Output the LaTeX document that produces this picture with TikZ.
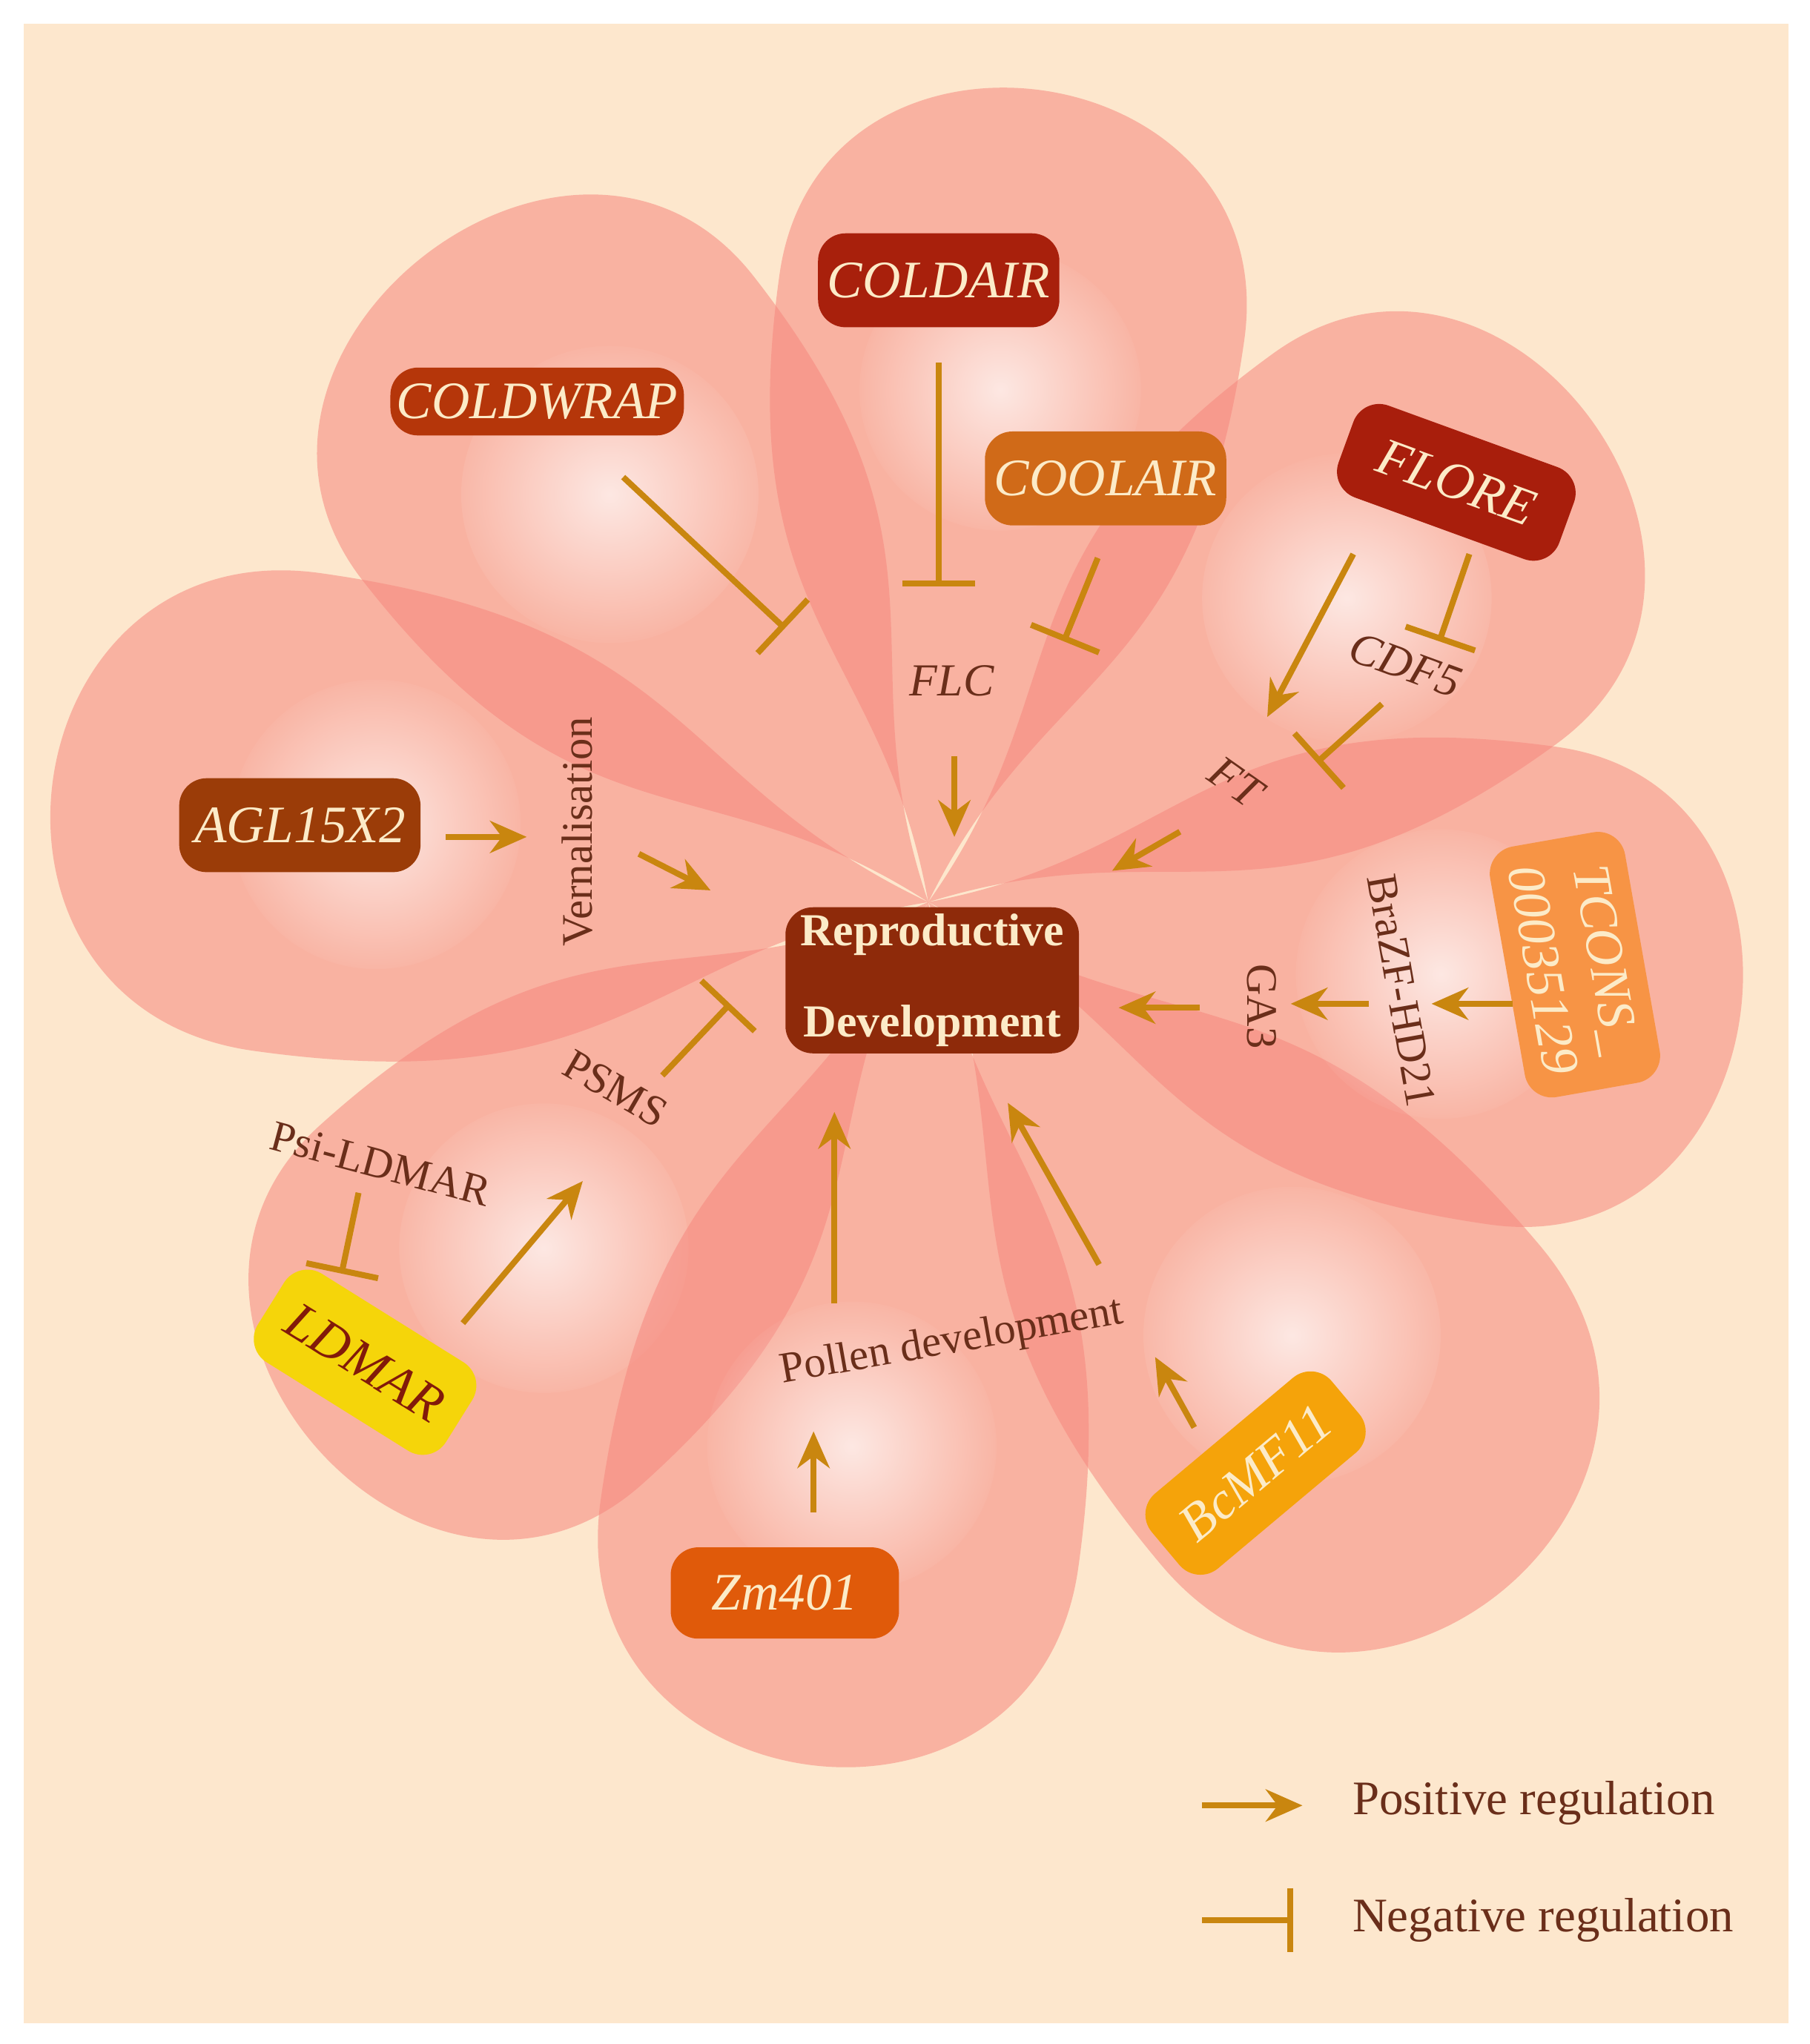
\documentclass[tikz,border=0pt]{standalone}
\usepackage{fontspec}
\setmainfont{Liberation Serif}
\usetikzlibrary{arrows.meta,fadings}
\definecolor{bgpeach}{HTML}{FDE7CD}
\definecolor{petalc}{HTML}{F7877E}
\definecolor{arr}{HTML}{C9860F}
\definecolor{lab}{HTML}{6A2E1A}
\definecolor{ntext}{HTML}{FCEBC8}
\tikzfading[name=glow, inner color=transparent!0, outer color=transparent!100]
\tikzset{
 petal/.style={fill=petalc, fill opacity=0.55},
 gene/.style={rounded corners=6pt, text=ntext, inner sep=0pt, font=\fontsize{11.5}{14}\selectfont\itshape},
 lbl/.style={text=lab, font=\fontsize{9.5}{11}\selectfont},
 act/.style={draw=arr, line width=1.3pt, -{Stealth[length=8pt,width=7pt]}},
 inh/.style={draw=arr, line width=1.3pt, -{Bar[width=16pt,line width=1.3pt]}},
}
\newcommand{\mypetal}[5]{% cx cy angle L W
 \begin{scope}[shift={(#1,#2)}, rotate=#3]
 \fill[petal] (0,0) .. controls (0.3*#4,0.35*#5) and (0.3*#4,#5) .. (0.72*#4,#5)
   .. controls (1.07*#4,#5) and (1.07*#4,-#5) .. (0.72*#4,-#5)
   .. controls (0.3*#4,-#5) and (0.3*#4,-0.35*#5) .. (0,0);
 \fill[white, path fading=glow, fill opacity=0.7] (0.62*#4,0) circle (0.6*#5);
 \end{scope}}
\begin{document}
\begin{tikzpicture}[x=0.01cm,y=-0.01cm]
\useasboundingbox (0,0) rectangle (1388,1568);
\fill[white] (0,0) rectangle (1388,1568);
\fill[bgpeach] (18,18) rectangle (1372,1552);
% petals
\mypetal{712}{692}{82}{640}{180}
\mypetal{712}{692}{128}{640}{190}
\mypetal{712}{692}{172}{690}{185}
\mypetal{712}{692}{222}{640}{185}
\mypetal{712}{692}{262}{680}{185}
\mypetal{712}{692}{310}{700}{190}
\mypetal{712}{692}{352}{640}{185}
\mypetal{712}{692}{36}{640}{185}
% genes
\node[gene, fill={rgb,255:red,168;green,32;blue,12}, minimum width=1.85cm, minimum height=0.72cm] (coldair) at (720,215) {COLDAIR};
\node[gene, fill={rgb,255:red,181;green,54;blue,10}, minimum width=2.25cm, minimum height=0.52cm] (coldwrap) at (412,308) {COLDWRAP};
\node[gene, fill={rgb,255:red,208;green,106;blue,24}, minimum width=1.85cm, minimum height=0.72cm] (coolair) at (848,367) {COOLAIR};
\node[gene, fill={rgb,255:red,168;green,30;blue,12}, minimum width=1.8cm, minimum height=0.75cm, rotate=-20] (flore) at (1117,370) {FLORE};
\node[gene, fill={rgb,255:red,155;green,60;blue,8}, minimum width=1.85cm, minimum height=0.72cm] (agl) at (230,633) {AGL15X2};
\node[gene, fill={rgb,255:red,142;green,42;blue,10}, minimum width=2.25cm, minimum height=1.12cm, font=\fontsize{10}{20}\selectfont\bfseries, align=center] (rd) at (715,752) {Reproductive\\Development};
\node[gene, fill={rgb,255:red,247;green,148;blue,69}, minimum width=1.95cm, minimum height=1.05cm, rotate=-80, align=center] (tcons) at (1208,740) {TCONS\_\\00035129};
\node[gene, fill={rgb,255:red,245;green,213;blue,10}, text={rgb,255:red,130;green,26;blue,10}, minimum width=1.7cm, minimum height=0.8cm, rotate=-32] (ldmar) at (280,1045) {LDMAR};
\node[gene, fill={rgb,255:red,224;green,90;blue,10}, minimum width=1.75cm, minimum height=0.7cm] (zm) at (602,1222) {Zm401};
\node[gene, fill={rgb,255:red,245;green,163;blue,10}, minimum width=1.8cm, minimum height=0.75cm, rotate=40] (bcmf) at (963,1130) {BcMF11};
% labels
\node[lbl, font=\fontsize{10}{12}\selectfont\itshape] (flc) at (730,522) {FLC};
\node[lbl, font=\fontsize{10}{12}\selectfont\itshape, rotate=-20] (cdf) at (1078,510) {CDF5};
\node[lbl, font=\fontsize{10}{12}\selectfont\itshape, rotate=-35] (ft) at (948,600) {FT};
\node[lbl, rotate=90] (vern) at (443,638) {Vernalisation};
\node[lbl, rotate=-80] (bra) at (1075,760) {BraZF-HD21};
\node[lbl, rotate=-90] (ga) at (968,772) {GA3};
\node[lbl, rotate=-30] (psms) at (472,835) {PSMS};
\node[lbl, rotate=-15] (psi) at (292,893) {Psi-LDMAR};
\node[lbl, rotate=10] (pollen) at (730,1030) {Pollen development};
% inhibitions
\draw[inh] (720,278) -- (720,450);
\draw[inh] (478,366) -- (602,482);
\draw[inh] (842,428) -- (816,492);
\draw[inh] (1127,425) -- (1104,492);
\draw[inh] (1060,540) -- (1010,585);
\draw[inh] (508,825) -- (560,770);
\draw[inh] (275,915) -- (262,977);
% activations
\draw[act] (732,580) -- (732,642);
\draw[act] (1038,425) -- (972,550);
\draw[act] (905,638) -- (853,668);
\draw[act] (342,642) -- (404,642);
\draw[act] (490,655) -- (545,683);
\draw[act] (920,773) -- (858,773);
\draw[act] (1050,770) -- (990,770);
\draw[act] (1160,770) -- (1098,770);
\draw[act] (355,1015) -- (447,906);
\draw[act] (640,1000) -- (640,853);
\draw[act] (843,970) -- (773,846);
\draw[act] (624,1160) -- (624,1098);
\draw[act] (916,1095) -- (886,1041);
% legend
\coordinate (la1) at (922,1385); \coordinate (la2) at (999,1385);
\coordinate (lb1) at (922,1473); \coordinate (lb2) at (992,1473);
\draw[act] (la1) -- (la2);
\draw[inh, -{Bar[width=14pt,line width=1.3pt]}] (lb1) -- (lb2);
\node[lbl, font=\fontsize{10.5}{13}\selectfont, anchor=west] (pos) at (1025,1383) {Positive regulation};
\node[lbl, font=\fontsize{10.5}{13}\selectfont, anchor=west] (neg) at (1025,1473) {Negative regulation};
\end{tikzpicture}
\end{document}
